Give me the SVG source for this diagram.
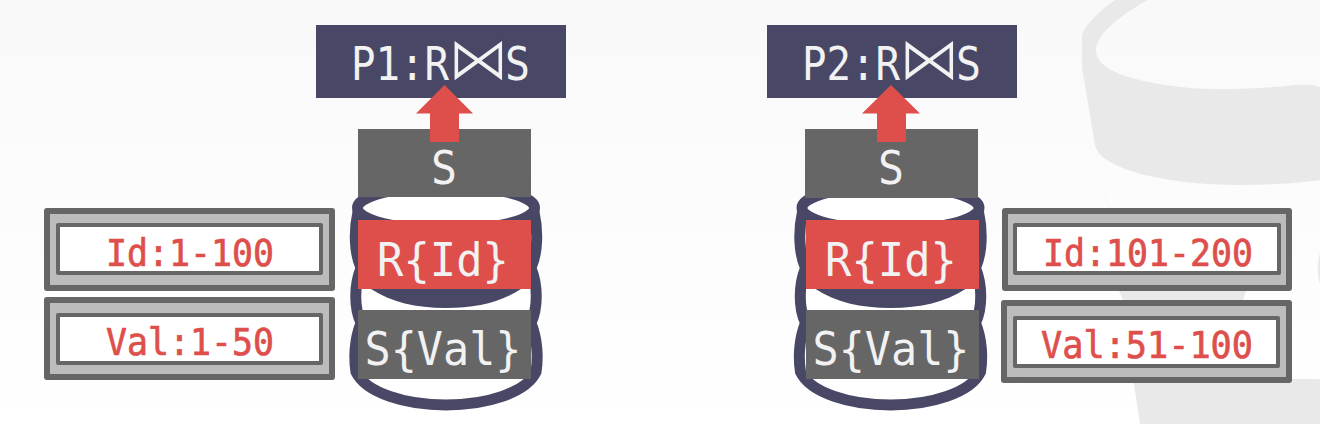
<svg xmlns="http://www.w3.org/2000/svg" width="1320" height="424" viewBox="0 0 1320 424">
<style>
.t{font-family:"DejaVu Sans Mono","Liberation Mono",monospace;text-anchor:middle}
.w{fill:#f2f2f2}
.lg{font-size:47px}
.ttl{font-family:"DejaVu Sans Mono","Liberation Mono",monospace;font-size:47px;fill:#f2f2f2}
.bow{font-family:"DejaVu Sans Mono","DejaVu Sans",monospace;font-size:62px;stroke:#484866;stroke-width:1.6}
.lb{font-size:37px;fill:#de4f4c;stroke:#de4f4c;stroke-width:.7}
.navy{fill:#484866}
.gr{fill:#666666}
.rd{fill:#de4f4c}
.o{fill:#bcbcbc;stroke:#666666;stroke-width:6;stroke-linejoin:round}
.i{fill:#ffffff;stroke:#666666;stroke-width:4;stroke-linejoin:round}
.c{fill:#ffffff;stroke:#484866;stroke-width:11;stroke-linejoin:round}
.bg{fill:#e9e9e9}
</style>
<defs>
<linearGradient id="bgg" x1="0" y1="0" x2="0" y2="1"><stop offset="0" stop-color="#f9f9f9"/><stop offset="1" stop-color="#ffffff"/></linearGradient>
<g id="cyl">
<path class="c" d="M-88,22 C-92,40 -92,62 -85,78 C-92,95 -92,118 -85,133 C-92,150 -92,170 -90,182 C-80,203 -40,215 0,215 C40,215 80,203 90,182 C92,170 92,150 85,133 C92,118 92,95 85,78 C92,62 92,40 88,22 Z"/>
<ellipse class="c" cx="0" cy="18" rx="88.500" ry="22"/>
<path class="navy" d="M-75,99 C-55,112 -30,118 0,118 C30,118 55,112 75,99 Z"/>
</g>
</defs>
<rect width="1320" height="424" fill="url(#bgg)"/>
<g id="background-cylinder">
<path class="bg" d="M1115,0 C1098,12 1086,24 1082,35 L1082,68 L1095,145 C1100,170 1170,185 1240,185 C1270,185 1300,183 1320,180 L1320,87 C1312,84 1305,84 1296,85 C1260,89 1220,90 1190,88 C1130,82 1096,70 1096,50 C1096,35 1120,15 1148,0 Z"/>
<path class="bg" d="M1103,195 C1105,202 1110,205 1113,215 L1119,291 L1124,302 L1242,302 L1250,280 L1250,240 L1113,215 Z"/>
<path class="bg" d="M1133,378 L1140,424 L1320,424 L1320,379 Z"/>
<path class="bg" d="M1320,253 C1317,262 1317,275 1320,284 Z"/>
</g>
<g id="p1">
<rect class="navy" x="316" y="25" width="250" height="73"/>
<text class="ttl" y="80"><tspan x="351" textLength="98" lengthAdjust="spacingAndGlyphs">P1:R</tspan><tspan class="bow" x="447">⋈</tspan><tspan x="505" textLength="25" lengthAdjust="spacingAndGlyphs">S</tspan></text>
</g>
<g id="p2">
<rect class="navy" x="767" y="25" width="250" height="73"/>
<text class="ttl" y="80"><tspan x="802" textLength="98" lengthAdjust="spacingAndGlyphs">P2:R</tspan><tspan class="bow" x="898">⋈</tspan><tspan x="956" textLength="25" lengthAdjust="spacingAndGlyphs">S</tspan></text>
</g>
<g id="node1-store"><use href="#cyl" x="446" y="190"/></g>
<g id="node2-store"><use href="#cyl" x="890.500" y="190"/></g>
<g id="s1">
<rect class="gr" x="358" y="129" width="173" height="68"/>
<text class="t w lg" x="444" y="184" textLength="26" lengthAdjust="spacingAndGlyphs">S</text>
</g>
<g id="r1">
<rect class="rd" x="358" y="220" width="173" height="69"/>
<text class="t w lg" x="443" y="276" textLength="132" lengthAdjust="spacingAndGlyphs">R{Id}</text>
</g>
<g id="sv1">
<rect class="gr" x="358" y="310" width="173" height="69"/>
<text class="t w lg" x="443" y="365" textLength="157" lengthAdjust="spacingAndGlyphs">S{Val}</text>
</g>
<g id="s2">
<rect class="gr" x="805" y="129" width="173" height="69"/>
<text class="t w lg" x="891" y="184" textLength="26" lengthAdjust="spacingAndGlyphs">S</text>
</g>
<g id="r2">
<rect class="rd" x="806" y="220" width="173" height="69"/>
<text class="t w lg" x="891" y="276" textLength="132" lengthAdjust="spacingAndGlyphs">R{Id}</text>
</g>
<g id="sv2">
<rect class="gr" x="806" y="310" width="173" height="69"/>
<text class="t w lg" x="891" y="365" textLength="157" lengthAdjust="spacingAndGlyphs">S{Val}</text>
</g>
<g id="connectors">
<path class="rd" d="M444.500,85 L473,113.500 L459,113.500 L459,142 L430,142 L430,113.500 L416,113.500 Z"/>
<path class="rd" d="M891,85 L920,113.500 L906,113.500 L906,142 L877,142 L877,113.500 L862,113.500 Z"/>
</g>
<g id="zone-id-1">
<rect class="o" x="47" y="211" width="285" height="77"/>
<rect class="i" x="58" y="225" width="263" height="48"/>
<text class="t lb" x="190" y="266" textLength="168" lengthAdjust="spacingAndGlyphs">Id:1-100</text>
</g>
<g id="zone-val-1">
<rect class="o" x="47" y="300" width="285" height="77"/>
<rect class="i" x="58" y="315" width="263" height="48"/>
<text class="t lb" x="190" y="355" textLength="168" lengthAdjust="spacingAndGlyphs">Val:1-50</text>
</g>
<g id="zone-id-2">
<rect class="o" x="1005" y="211" width="284" height="77"/>
<rect class="i" x="1015" y="225" width="264" height="48"/>
<text class="t lb" x="1148" y="266" textLength="210" lengthAdjust="spacingAndGlyphs">Id:101-200</text>
</g>
<g id="zone-val-2">
<rect class="o" x="1004" y="303" width="285" height="77"/>
<rect class="i" x="1015" y="318" width="263" height="48"/>
<text class="t lb" x="1147" y="358" textLength="212" lengthAdjust="spacingAndGlyphs">Val:51-100</text>
</g>
</svg>
